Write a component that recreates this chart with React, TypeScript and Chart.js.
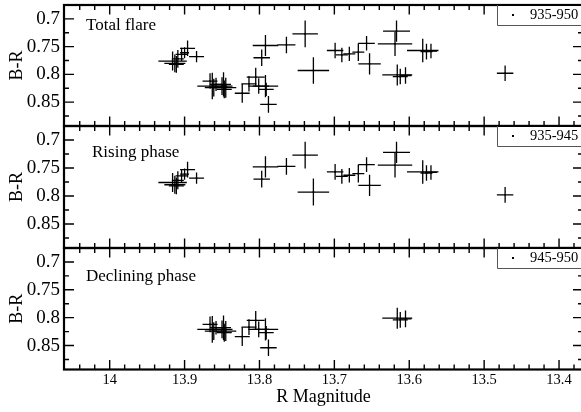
import { useEffect, useRef } from 'react';
import { Chart, registerables } from 'chart.js';

Chart.register(...registerables);

// Rising phase, frames 935-945
const risingMag = [13.916, 13.913, 13.911, 13.909, 13.904, 13.896, 13.9, 13.884, 13.792, 13.797, 13.764, 13.739, 13.728, 13.699, 13.69, 13.68, 13.668, 13.657, 13.653, 13.617, 13.619, 13.582, 13.577, 13.571, 13.472];
const risingColor = [0.776, 0.78, 0.782, 0.772, 0.764, 0.753, 0.761, 0.768, 0.748, 0.77, 0.747, 0.727, 0.793, 0.757, 0.765, 0.763, 0.76, 0.744, 0.781, 0.722, 0.745, 0.757, 0.759, 0.758, 0.798];
const risingMagErr = [0.019, 0.014, 0.01, 0.008, 0.008, 0.01, 0.006, 0.01, 0.017, 0.011, 0.012, 0.017, 0.021, 0.011, 0.008, 0.008, 0.008, 0.011, 0.015, 0.018, 0.023, 0.021, 0.008, 0.008, 0.011];
const risingColorErr = [0.017, 0.016, 0.015, 0.016, 0.012, 0.014, 0.01, 0.01, 0.019, 0.015, 0.015, 0.024, 0.024, 0.014, 0.013, 0.013, 0.016, 0.013, 0.019, 0.019, 0.022, 0.021, 0.014, 0.013, 0.014];

// Declining phase, frames 945-950
const decliningMag = [13.866, 13.863, 13.861, 13.858, 13.85, 13.848, 13.845, 13.847, 13.823, 13.814, 13.805, 13.801, 13.792, 13.791, 13.788, 13.616, 13.612, 13.605];
const decliningColor = [0.812, 0.821, 0.824, 0.818, 0.821, 0.818, 0.824, 0.827, 0.834, 0.817, 0.805, 0.821, 0.821, 0.827, 0.854, 0.801, 0.804, 0.802];
const decliningMagErr = [0.01, 0.02, 0.012, 0.008, 0.014, 0.01, 0.014, 0.01, 0.01, 0.01, 0.012, 0.014, 0.017, 0.01, 0.011, 0.02, 0.01, 0.008];
const decliningColorErr = [0.014, 0.024, 0.016, 0.012, 0.016, 0.022, 0.018, 0.016, 0.017, 0.014, 0.017, 0.014, 0.02, 0.012, 0.015, 0.019, 0.014, 0.015];

const panelTitles = ['Total flare', 'Rising phase', 'Declining phase'];
const legendLabels = ['935-950', '935-945', '945-950'];

const magTicks = [14, 13.9, 13.8, 13.7, 13.6, 13.5, 13.4];
const magTickLabels = ['14', '13.9', '13.8', '13.7', '13.6', '13.5', '13.4'];
const colorTicks = [0.7, 0.75, 0.8, 0.85];
const colorTickLabels = ['0.7', '0.75', '0.8', '0.85'];

const MAG_MIN = 13.368;
const MAG_MAX = 14.061;
const COLOR_MIN = 0.675;
const COLOR_MAX = 0.893;

const SERIF = "'Liberation Serif', 'DejaVu Serif', 'Times New Roman', serif";
const CANVAS_W = 600;

// Minor tick values between the labelled ones
const magMinor: number[] = [];
for (let k = Math.ceil(MAG_MIN * 50); k <= Math.floor(MAG_MAX * 50); k++) magMinor.push(k / 50);
const colorMinor: number[] = [];
for (let k = Math.ceil(COLOR_MIN * 40); k <= Math.floor(COLOR_MAX * 40); k++) colorMinor.push(k / 40);

const isMajor = (v: number, majors: number[]) => majors.some((m) => Math.abs(m - v) < 1e-6);

type PanelOpts = {
  title: string;
  titleX: number;
  titleBaseline: number;
  legend: string;
};

const framePlugin = {
  id: 'panelFrame',
  afterDatasetsDraw(chart: any, _args: any, opts: PanelOpts) {
    const { ctx, chartArea: a, scales } = chart;
    const xs = scales.x;
    const ys = scales.y;
    ctx.save();

    // error bars
    ctx.strokeStyle = '#000';
    ctx.lineWidth = 1.3;
    chart.data.datasets.forEach((ds: any) => {
      ds.data.forEach((p: any, i: number) => {
        const cx = xs.getPixelForValue(p.x);
        const cy = ys.getPixelForValue(p.y);
        const xl = xs.getPixelForValue(p.x - ds.errX[i]);
        const xr = xs.getPixelForValue(p.x + ds.errX[i]);
        const yt = ys.getPixelForValue(p.y - ds.errY[i]);
        const yb = ys.getPixelForValue(p.y + ds.errY[i]);
        ctx.beginPath();
        ctx.moveTo(xl, cy);
        ctx.lineTo(xr, cy);
        ctx.moveTo(cx, yt);
        ctx.lineTo(cx, yb);
        ctx.stroke();
      });
    });

    // inward ticks on all four sides
    ctx.lineWidth = 1.4;
    ctx.beginPath();
    magMinor.forEach((v) => {
      const px = xs.getPixelForValue(v);
      if (px < a.left + 2 || px > a.right - 2) return;
      const len = isMajor(v, magTicks) ? 9.5 : 5;
      ctx.moveTo(px, a.top);
      ctx.lineTo(px, a.top + len);
      ctx.moveTo(px, a.bottom);
      ctx.lineTo(px, a.bottom - len);
    });
    colorMinor.forEach((v) => {
      const py = ys.getPixelForValue(v);
      if (py < a.top + 2 || py > a.bottom - 2) return;
      const len = isMajor(v, colorTicks) ? 10 : 5;
      ctx.moveTo(a.left, py);
      ctx.lineTo(a.left + len, py);
      ctx.moveTo(a.right, py);
      ctx.lineTo(a.right - len, py);
    });
    ctx.stroke();

    // frame
    ctx.lineWidth = 2.2;
    ctx.strokeRect(a.left, a.top, a.right - a.left, a.bottom - a.top);

    // panel caption
    ctx.fillStyle = '#000';
    ctx.font = `17px ${SERIF}`;
    ctx.textAlign = 'left';
    ctx.textBaseline = 'alphabetic';
    ctx.fillText(opts.title, opts.titleX, a.top + opts.titleBaseline);

    // legend box
    const bx = 497;
    const bh = 20;
    ctx.fillStyle = '#fff';
    ctx.fillRect(bx, a.top + 1, a.right - bx, bh - 1);
    ctx.strokeStyle = '#555';
    ctx.lineWidth = 1;
    ctx.beginPath();
    ctx.moveTo(bx + 0.5, a.top);
    ctx.lineTo(bx + 0.5, a.top + bh + 0.5);
    ctx.lineTo(a.right, a.top + bh + 0.5);
    ctx.stroke();
    ctx.fillStyle = '#000';
    ctx.fillRect(512, a.top + 9, 2, 2);
    ctx.font = `14.5px ${SERIF}`;
    ctx.textBaseline = 'middle';
    ctx.fillText(opts.legend, 530, a.top + 10);

    ctx.restore();
  },
};

type PanelProps = {
  index: number;
  mag: number[];
  color: number[];
  magErr: number[];
  colorErr: number[];
  top: number;
  height: number;
  showX: boolean;
  titleX: number;
  titleBaseline: number;
};

function Panel(props: PanelProps) {
  const ref = useRef<HTMLCanvasElement | null>(null);
  useEffect(() => {
    if (!ref.current) return;
    const chart = new Chart(ref.current, {
      type: 'scatter',
      data: {
        datasets: [
          {
            label: legendLabels[props.index],
            data: props.mag.map((m, i) => ({ x: m, y: props.color[i] })),
            errX: props.magErr,
            errY: props.colorErr,
            pointRadius: 1.1,
            pointStyle: 'rect',
            pointBackgroundColor: '#000',
            pointBorderWidth: 0,
            showLine: false,
          } as any,
        ],
      },
      options: {
        responsive: false,
        animation: false,
        events: [],
        layout: {
          autoPadding: false,
          padding: { top: 5, bottom: props.showX ? 0 : 5, left: 0, right: CANVAS_W - 583 },
        },
        plugins: {
          legend: { display: false },
          tooltip: { enabled: false },
          panelFrame: {
            title: panelTitles[props.index],
            titleX: props.titleX,
            titleBaseline: props.titleBaseline,
            legend: legendLabels[props.index],
          },
        } as any,
        scales: {
          x: {
            type: 'linear',
            min: MAG_MIN,
            max: MAG_MAX,
            reverse: true,
            display: props.showX,
            grid: { display: false, drawTicks: false },
            border: { display: false },
            afterBuildTicks: (scale: any) => {
              scale.ticks = magTicks.map((v) => ({ value: v }));
            },
            afterFit: (scale: any) => {
              scale.height = props.showX ? 42.5 : 0;
              scale.paddingLeft = 0;
              scale.paddingRight = 0;
              scale.paddingTop = 0;
              scale.paddingBottom = 0;
            },
            ticks: {
              autoSkip: false,
              maxRotation: 0,
              padding: 2,
              color: '#000',
              font: { family: SERIF, size: 14.5 },
              callback: (v: any) => {
                const i = magTicks.findIndex((m) => Math.abs(m - Number(v)) < 1e-6);
                return i >= 0 ? magTickLabels[i] : '';
              },
            },
            title: {
              display: true,
              text: 'R Magnitude',
              color: '#000',
              font: { family: SERIF, size: 18 },
              padding: { top: 0, bottom: 3.6 },
            },
          },
          y: {
            type: 'linear',
            min: COLOR_MIN,
            max: COLOR_MAX,
            reverse: true,
            grid: { display: false, drawTicks: false },
            border: { display: false },
            afterBuildTicks: (scale: any) => {
              scale.ticks = colorTicks.map((v) => ({ value: v }));
            },
            afterFit: (scale: any) => {
              scale.width = 64;
              scale.paddingLeft = 0;
              scale.paddingRight = 0;
              scale.paddingTop = 0;
              scale.paddingBottom = 0;
            },
            ticks: {
              autoSkip: false,
              padding: 4,
              color: '#000',
              font: { family: SERIF, size: 19 },
              callback: (v: any) => {
                const i = colorTicks.findIndex((m) => Math.abs(m - Number(v)) < 1e-6);
                return i >= 0 ? colorTickLabels[i] : '';
              },
            },
            title: {
              display: true,
              text: 'B-R',
              color: '#000',
              font: { family: SERIF, size: 18 },
              padding: { top: 6.7, bottom: 0 },
            },
          },
        },
      } as any,
      plugins: [framePlugin as any],
    });
    return () => chart.destroy();
  }, []);
  return (
    <canvas
      ref={ref}
      width={CANVAS_W}
      height={props.height}
      style={{ position: 'absolute', left: 0, top: props.top, width: CANVAS_W, height: props.height }}
    />
  );
}

export default function App() {
  const totalMag = [...risingMag, ...decliningMag];
  const totalColor = [...risingColor, ...decliningColor];
  const totalMagErr = [...risingMagErr, ...decliningMagErr];
  const totalColorErr = [...risingColorErr, ...decliningColorErr];
  return (
    <div
      style={{
        position: 'fixed',
        left: 0,
        top: 0,
        width: 581,
        height: 412,
        overflow: 'hidden',
        background: '#fff',
      }}
    >
      <Panel index={0} mag={totalMag} color={totalColor} magErr={totalMagErr} colorErr={totalColorErr} top={0} height={131} showX={false} titleX={86} titleBaseline={25} />
      <Panel index={1} mag={risingMag} color={risingColor} magErr={risingMagErr} colorErr={risingColorErr} top={121} height={132} showX={false} titleX={92} titleBaseline={30.7} />
      <Panel index={2} mag={decliningMag} color={decliningColor} magErr={decliningMagErr} colorErr={decliningColorErr} top={243} height={169} showX={true} titleX={86} titleBaseline={32.5} />
    </div>
  );
}
